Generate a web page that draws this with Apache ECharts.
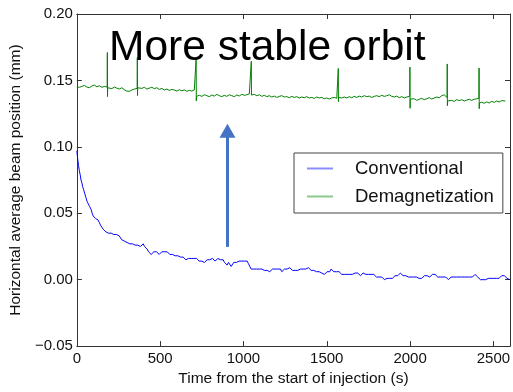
<!DOCTYPE html>
<html><head><meta charset="utf-8">
<script src="https://cdn.jsdelivr.net/npm/echarts@6/dist/echarts.min.js"></script>
<style>html,body{margin:0;padding:0;background:#fff}#c{width:513px;height:392px}</style>
</head><body><div id="c"></div>
<script>
const seriesNames = ['Conventional', 'Demagnetization'];
const xTicks = { min: 0, max: 2600, interval: 500 };
const yTicks = { min: -0.05, max: 0.20, interval: 0.05 };
const xTitle = 'Time from the start of injection (s)';
const yTitle = 'Horizontal average beam position (mm)';
const annotationText = 'More stable orbit';
const arrowFrom = [904, 0.0247];
const arrowTo = [904, 0.1122];

const convPoints = [
[0,0.097],[5,0.091],[10,0.086],[15,0.082],[20,0.079],[25,0.075],[30,0.073],[35,0.070],[40,0.068],[47,0.065],
[54,0.062],[61,0.059],[69,0.057],[77,0.055],[85,0.053],[92,0.050],[98,0.048],[105,0.047],[112,0.046],[120,0.046],
[127,0.045],[135,0.043],[142,0.041],[150,0.040],[158,0.038],[166,0.037],[174,0.036],[182,0.035],[190,0.035],[198,0.034],
[206,0.035],[214,0.034],[222,0.034],[230,0.033],[238,0.034],[246,0.033],[254,0.033],[262,0.032],[270,0.030],[278,0.030],
[286,0.029],[294,0.029],[302,0.028],[310,0.028],[318,0.027],[326,0.028],[334,0.027],[342,0.027],[350,0.026],[358,0.027],
[366,0.026],[374,0.026],[382,0.025],[390,0.026],[398,0.027],[406,0.025],[414,0.024],[422,0.023],[430,0.021],[438,0.020],
[446,0.019],[454,0.020],[462,0.021],[470,0.022],[478,0.021],[486,0.020],[494,0.019],[502,0.020],[510,0.021],[518,0.020],
[526,0.021],[534,0.020],[542,0.021],[550,0.020],[558,0.019],[566,0.018],[574,0.019],[582,0.018],[590,0.018],[598,0.019],
[606,0.018],[614,0.018],[622,0.017],[630,0.016],[638,0.017],[646,0.016],[654,0.015],[662,0.016],[670,0.016],[678,0.015],
[686,0.016],[694,0.015],[702,0.016],[710,0.015],[718,0.016],[726,0.015],[734,0.014],[742,0.015],[750,0.014],[758,0.014],
[766,0.013],[774,0.014],[782,0.015],[790,0.014],[798,0.015],[806,0.014],[814,0.016],[822,0.015],[830,0.014],[838,0.015],
[846,0.016],[854,0.015],[862,0.015],[870,0.014],[878,0.015],[886,0.013],[894,0.012],[902,0.011],[910,0.013],[918,0.012],
[926,0.010],[934,0.011],[942,0.013],[950,0.012],[958,0.013],[966,0.012],[974,0.014],[982,0.013],[990,0.014],[998,0.015],
[1006,0.014],[1014,0.013],[1022,0.014],[1030,0.012],[1038,0.011],[1046,0.008],[1054,0.007],[1062,0.008],[1070,0.009],[1078,0.008],
[1086,0.009],[1094,0.008],[1102,0.009],[1110,0.008],[1118,0.009],[1126,0.007],[1134,0.008],[1142,0.007],[1150,0.008],[1158,0.006],
[1166,0.007],[1174,0.008],[1182,0.007],[1190,0.008],[1198,0.007],[1206,0.008],[1214,0.007],[1222,0.008],[1230,0.006],[1238,0.007],
[1246,0.008],[1254,0.007],[1262,0.008],[1270,0.009],[1278,0.009],[1286,0.008],[1294,0.007],[1302,0.008],[1310,0.007],[1318,0.008],
[1326,0.007],[1334,0.006],[1342,0.008],[1350,0.007],[1358,0.008],[1366,0.009],[1374,0.008],[1382,0.009],[1390,0.009],[1398,0.008],
[1406,0.007],[1414,0.008],[1422,0.007],[1430,0.008],[1438,0.006],[1446,0.007],[1454,0.006],[1462,0.007],[1470,0.005],[1478,0.006],
[1486,0.004],[1494,0.005],[1502,0.006],[1510,0.007],[1518,0.006],[1526,0.008],[1534,0.007],[1542,0.006],[1550,0.005],[1558,0.006],
[1566,0.005],[1574,0.006],[1582,0.005],[1590,0.004],[1598,0.005],[1606,0.004],[1614,0.003],[1622,0.004],[1630,0.005],[1638,0.004],
[1646,0.005],[1654,0.004],[1662,0.004],[1670,0.005],[1678,0.004],[1686,0.005],[1694,0.004],[1702,0.003],[1710,0.004],[1718,0.005],
[1726,0.004],[1734,0.004],[1742,0.003],[1750,0.004],[1758,0.005],[1766,0.004],[1774,0.003],[1782,0.004],[1790,0.003],[1798,0.002],
[1806,0.003],[1814,0.002],[1822,0.003],[1830,0.002],[1838,0.001],[1846,0.000],[1854,0.000],[1862,0.001],[1870,0.000],[1878,0.001],
[1886,0.002],[1894,0.001],[1902,0.002],[1910,0.003],[1918,0.002],[1926,0.003],[1934,0.004],[1942,0.005],[1950,0.004],[1958,0.003],
[1966,0.004],[1974,0.003],[1982,0.004],[1990,0.002],[1998,0.003],[2006,0.002],[2014,0.003],[2022,0.002],[2030,0.001],[2038,0.002],
[2046,0.001],[2054,0.001],[2062,0.002],[2070,0.001],[2078,0.002],[2086,0.003],[2094,0.002],[2102,0.003],[2110,0.003],[2118,0.002],
[2126,0.003],[2134,0.004],[2142,0.003],[2150,0.004],[2158,0.003],[2166,0.002],[2174,0.003],[2182,0.002],[2190,0.003],[2198,0.002],
[2206,0.001],[2214,0.002],[2222,0.001],[2230,0.000],[2238,0.001],[2246,0.002],[2254,0.001],[2262,0.002],[2270,0.003],[2278,0.002],
[2286,0.003],[2294,0.002],[2302,0.003],[2310,0.002],[2318,0.001],[2326,0.002],[2334,0.003],[2342,0.002],[2350,0.003],[2358,0.002],
[2366,0.003],[2374,0.002],[2382,0.003],[2390,0.004],[2398,0.003],[2406,0.002],[2414,0.001],[2422,0.000],[2430,-0.001],[2438,0.000],
[2446,0.001],[2454,0.000],[2462,0.001],[2470,0.001],[2478,0.002],[2486,0.001],[2494,0.002],[2502,0.001],[2510,0.002],[2518,0.001],
[2526,0.002],[2534,0.001],[2542,0.002],[2550,0.003],[2558,0.002],[2566,0.003],[2574,0.002],[2582,0.001],[2590,0.002],[2600,0.000]
];

const demagPoints = [
[0,0.1452],[15,0.1448],[30,0.1455],[45,0.1462],[60,0.1450],[75,0.1445],[90,0.1458],[105,0.1465],[120,0.1452],[135,0.1460],
[150,0.1448],[165,0.1455],[182,0.1450],[183,0.1710],[184,0.1378],[185,0.1445],[195,0.1447],[210,0.1438],[225,0.1450],[240,0.1442],
[255,0.1435],[270,0.1445],[285,0.1430],[300,0.1420],[315,0.1418],[330,0.1428],[345,0.1435],[362,0.1440],[363,0.1673],[364,0.1386],
[365,0.1445],[375,0.1452],[390,0.1440],[405,0.1448],[420,0.1435],[435,0.1442],[450,0.1448],[465,0.1438],[480,0.1445],[495,0.1432],
[510,0.1440],[525,0.1428],[540,0.1435],[555,0.1425],[570,0.1432],[585,0.1428],[600,0.1420],[615,0.1430],[630,0.1422],[645,0.1428],
[660,0.1418],[675,0.1425],[690,0.1420],[705,0.1428],[715,0.1425],[716,0.1666],[717,0.1346],[718,0.1380],[735,0.1388],[750,0.1380],
[765,0.1392],[780,0.1385],[795,0.1378],[810,0.1390],[825,0.1382],[840,0.1395],[855,0.1385],[870,0.1378],[885,0.1388],[900,0.1380],
[915,0.1392],[930,0.1385],[945,0.1378],[960,0.1390],[975,0.1383],[990,0.1395],[1005,0.1388],[1020,0.1392],[1035,0.1398],[1046,0.1400],
[1047,0.1644],[1048,0.1390],[1049,0.1405],[1065,0.1395],[1080,0.1385],[1095,0.1392],[1110,0.1380],[1125,0.1388],[1140,0.1378],[1155,0.1385],
[1170,0.1375],[1185,0.1382],[1200,0.1372],[1215,0.1380],[1230,0.1385],[1245,0.1375],[1260,0.1378],[1275,0.1370],[1290,0.1380],[1305,0.1372],
[1320,0.1378],[1335,0.1368],[1350,0.1375],[1365,0.1370],[1380,0.1378],[1395,0.1368],[1410,0.1372],[1425,0.1365],[1440,0.1375],[1455,0.1368],
[1470,0.1372],[1485,0.1362],[1500,0.1368],[1515,0.1360],[1530,0.1368],[1545,0.1372],[1560,0.1365],[1568,0.1368],[1569,0.1590],[1570,0.1340],
[1571,0.1372],[1590,0.1368],[1605,0.1375],[1620,0.1368],[1635,0.1378],[1650,0.1370],[1665,0.1380],[1680,0.1372],[1695,0.1382],[1710,0.1375],
[1725,0.1385],[1740,0.1378],[1755,0.1382],[1770,0.1372],[1785,0.1380],[1800,0.1385],[1815,0.1378],[1830,0.1388],[1845,0.1380],[1860,0.1385],
[1875,0.1392],[1890,0.1380],[1905,0.1375],[1920,0.1382],[1935,0.1370],[1950,0.1378],[1965,0.1368],[1980,0.1375],[1998,0.1380],[1999,0.1600],
[2000,0.1290],[2001,0.1360],[2010,0.1352],[2025,0.1362],[2040,0.1350],[2055,0.1358],[2070,0.1365],[2085,0.1355],[2100,0.1362],[2115,0.1370],
[2130,0.1360],[2145,0.1368],[2160,0.1375],[2175,0.1370],[2190,0.1385],[2205,0.1392],[2215,0.1380],[2222,0.1372],[2223,0.1624],[2224,0.1310],
[2225,0.1345],[2235,0.1340],[2250,0.1350],[2265,0.1342],[2280,0.1355],[2295,0.1348],[2310,0.1355],[2325,0.1345],[2340,0.1352],[2355,0.1358],
[2370,0.1350],[2385,0.1358],[2400,0.1362],[2413,0.1365],[2414,0.1594],[2415,0.1287],[2416,0.1330],[2430,0.1335],[2445,0.1328],[2460,0.1338],
[2475,0.1330],[2490,0.1342],[2505,0.1335],[2520,0.1345],[2535,0.1338],[2550,0.1348],[2560,0.1355],[2572,0.1345]
];

const FONT = '"Liberation Sans", Arial, Helvetica, sans-serif';
const chart = echarts.init(document.getElementById('c'), null, { renderer: 'canvas' });
const yFmt = v => (v < -1e-9 ? '\u2212' : '') + Math.abs(v).toFixed(2);
const xFmt = v => String(Math.round(v));
const axisLineStyle = { color: '#333', width: 1 };
const tickStyle = { show: true, inside: true, length: 5, lineStyle: { color: '#333', width: 1 } };

chart.setOption({
  animation: false,
  backgroundColor: '#fff',
  grid: { left: 75, right: 1, top: 14, bottom: 39, containLabel: false },
  xAxis: [
    { type: 'value', position: 'bottom', min: xTicks.min, max: xTicks.max, interval: xTicks.interval,
      name: xTitle, nameLocation: 'middle', nameGap: 24,
      nameTextStyle: { fontFamily: FONT, fontSize: 15.5, color: '#111' },
      axisLine: { show: true, onZero: false, lineStyle: axisLineStyle }, axisTick: tickStyle,
      axisLabel: { fontFamily: FONT, fontSize: 15, color: '#111', margin: 5, showMaxLabel: false, formatter: xFmt },
      splitLine: { show: false } },
    { type: 'value', position: 'top', min: xTicks.min, max: xTicks.max, interval: xTicks.interval,
      axisLine: { show: true, onZero: false, lineStyle: axisLineStyle }, axisTick: tickStyle,
      axisLabel: { show: false }, splitLine: { show: false } }
  ],
  yAxis: [
    { type: 'value', position: 'left', min: yTicks.min, max: yTicks.max, interval: yTicks.interval,
      name: yTitle, nameLocation: 'middle', nameGap: 47,
      nameTextStyle: { fontFamily: FONT, fontSize: 15.5, color: '#111' },
      axisLine: { show: true, onZero: false, lineStyle: axisLineStyle }, axisTick: tickStyle,
      axisLabel: { fontFamily: FONT, fontSize: 15, color: '#111', margin: 4, formatter: yFmt },
      splitLine: { show: false } },
    { type: 'value', position: 'right', min: yTicks.min, max: yTicks.max, interval: yTicks.interval,
      axisLine: { show: true, onZero: false, lineStyle: axisLineStyle }, axisTick: tickStyle,
      axisLabel: { show: false }, splitLine: { show: false } }
  ],
  legend: {
    orient: 'vertical', left: 294, top: 153,
    padding: [6, 9, 7, 13], itemGap: 9, itemWidth: 26, itemHeight: 2, icon: 'rect',
    backgroundColor: '#fff', borderColor: '#444', borderWidth: 1,
    textStyle: { fontFamily: FONT, fontSize: 18.5, color: '#111', padding: [0, 0, 0, 17] },
    data: [
      { name: seriesNames[0], itemStyle: { color: '#8c8cff' } },
      { name: seriesNames[1], itemStyle: { color: '#8cc88c' } }
    ]
  },
  series: [
    { name: seriesNames[0], type: 'line', data: convPoints, showSymbol: false, symbol: 'none',
      lineStyle: { color: '#0000ff', width: 1 }, itemStyle: { color: '#0000ff' }, z: 3,
      markLine: { silent: true, symbol: ['none', 'triangle'], symbolSize: [16, 14],
        label: { show: false }, lineStyle: { color: '#4472C4', width: 3, type: 'solid' },
        data: [[{ coord: arrowFrom }, { coord: arrowTo }]] } },
    { name: seriesNames[1], type: 'line', data: demagPoints, showSymbol: false, symbol: 'none',
      lineStyle: { color: '#008000', width: 1 }, itemStyle: { color: '#008000' }, z: 2 }
  ],
  graphic: [
    { type: 'text', left: 109, top: 27, z: 100,
      style: { text: annotationText, font: '42.5px ' + FONT, fill: '#000' } }
  ]
});
</script></body></html>
